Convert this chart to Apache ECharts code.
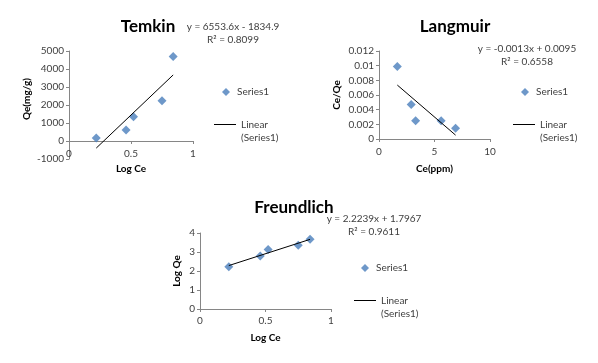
<!DOCTYPE html>
<html>
<head>
<meta charset="utf-8">
<script src="https://cdn.jsdelivr.net/npm/echarts@6/dist/echarts.min.js"></script>
<style>
html,body{margin:0;padding:0;background:#fff;}
#c{width:598px;height:363px;}
</style>
</head>
<body>
<div id="c"></div>
<script>
// ---- data ----
var logCe = [0.22, 0.46, 0.52, 0.75, 0.84];
var temkinQe = [170, 610, 1350, 2240, 4690];
var langmuirCe = [1.65, 2.9, 3.3, 5.6, 6.9];
var langmuirCeQe = [0.0099, 0.0047, 0.0025, 0.0025, 0.00145];
var freundlichLogQe = [2.23, 2.79, 3.13, 3.35, 3.67];
// fitted trend lines as printed on the chart: [slope, intercept]
var temkinFit = [6553.6, -1834.9];
var langmuirFit = [-0.0013, 0.0095];
var freundlichFit = [2.2239, 1.7967];
var chartTitles = ['Temkin', 'Langmuir', 'Freundlich'];
var equations = ['y = 6553.6x - 1834.9\nR\u00b2 = 0.8099', 'y = -0.0013x + 0.0095\nR\u00b2 = 0.6558', 'y = 2.2239x + 1.7967\nR\u00b2 = 0.9611'];

function pts(xs, ys){ return xs.map(function(x,i){ return [x, ys[i]]; }); }
function fitLine(xs, fit){
  var mn = Math.min.apply(null, xs), mx = Math.max.apply(null, xs);
  return [[mn, fit[0]*mn + fit[1]], [mx, fit[0]*mx + fit[1]]];
}

var FONT = 'Lato';
var BLUE = '#4A7EBB';
var AX = '#868686';
var TXT = '#404040';

function xAxis(idx, min, max, interval, name, gap, offset, margin){
  return {
    type:'value', gridIndex: idx, min:min, max:max, interval:interval, position:'bottom', offset:offset,
    name:name, nameLocation:'middle', nameGap:gap,
    nameTextStyle:{fontFamily:FONT, fontWeight:'bold', fontSize:10, color:'#000'},
    axisLine:{show:true, onZero:false, lineStyle:{color:AX, width:1}},
    axisTick:{show:true, length:3, lineStyle:{color:AX}},
    axisLabel:{fontFamily:FONT, fontSize:10, color:TXT, margin:margin},
    splitLine:{show:false}
  };
}
function yAxis(idx, min, max, interval, name, gap, pad, fmt){
  return {
    type:'value', gridIndex: idx, min:min, max:max, interval:interval,
    name:name, nameLocation:'middle', nameGap:gap,
    nameTextStyle:{fontFamily:FONT, fontWeight:'bold', fontSize:10, color:'#000', padding:pad},
    axisLine:{show:true, lineStyle:{color:AX, width:1}},
    axisTick:{show:true, length:3, lineStyle:{color:AX}},
    axisLabel:{fontFamily:FONT, fontSize:10, color:TXT, margin:5, formatter:fmt},
    splitLine:{show:false}
  };
}
function plain(v){ return String(+v.toFixed(4)); }

var scatterBase = {type:'scatter', name:'Series1', symbol:'diamond', symbolSize:9, itemStyle:{color:BLUE}};
var lineBase = {type:'line', name:'Linear (Series1)', symbol:'none', lineStyle:{color:'#000', width:1}, itemStyle:{color:'#000'}};

function legendPair(diamondLeft, diamondTop, lineLeft, lineTop){
  return [
    {left:diamondLeft, top:diamondTop, data:['Series1'], icon:'diamond', itemWidth:8, itemHeight:8,
     textStyle:{fontFamily:FONT, fontSize:10, color:TXT, padding:[0,0,0,2]}, selectedMode:false},
    {left:lineLeft, top:lineTop, data:['Linear (Series1)'], icon:'rect', itemWidth:22, itemHeight:1,
     itemGap:0,
     formatter:function(){ return ' \nLinear\n(Series1)'; },
     textStyle:{fontFamily:FONT, fontSize:10, color:TXT, lineHeight:13}, selectedMode:false}
  ];
}

function titleAt(text, cx, top){
  return {text:text, left:cx, top:top, textAlign:'center',
    textStyle:{fontFamily:FONT, fontWeight:'bold', fontSize:17, color:'#000'}};
}
function eqAt(text, cx, top){
  return {text:text, left:cx, top:top, textAlign:'center',
    textStyle:{fontFamily:FONT, fontWeight:'normal', fontSize:10, color:TXT, lineHeight:12.5}};
}

var chart = echarts.init(document.getElementById('c'), null, {renderer:'canvas'});
chart.setOption({
  animation:false,
  backgroundColor:'#fff',
  title:[
    titleAt(chartTitles[0], 143, 13),
    titleAt(chartTitles[1], 450, 13),
    titleAt(chartTitles[2], 289, 194),
    eqAt(equations[0], 228, 16),
    eqAt(equations[1], 522, 38),
    eqAt(equations[2], 369, 208)
  ],
  legend: [].concat(
    legendPair(217, 82, 209, 100),
    legendPair(516, 82, 508, 100),
    legendPair(356, 258, 349, 276)
  ),
  grid:[
    {left:69, top:51, width:124, height:108},
    {left:379, top:51, width:111, height:88},
    {left:200, top:233, width:131, height:76}
  ],
  xAxis:[
    xAxis(0, 0, 1, 0.5, 'Log Ce', 23, -18, 8),
    xAxis(1, 0, 10, 5, 'Ce(ppm)', 25, 0, 8),
    xAxis(2, 0, 1, 0.5, 'Log Ce', 24, 0, 7)
  ],
  yAxis:[
    yAxis(0, -1000, 5000, 1000, 'Qe(mg/g)', 37, [0,0,0,12], plain),
    yAxis(1, 0, 0.012, 0.002, 'Ce/Qe', 37, [0,0,0,0], plain),
    yAxis(2, 0, 4, 1, 'Log Qe', 18, [0,0,0,0], plain)
  ],
  series:[
    Object.assign({}, scatterBase, {xAxisIndex:0, yAxisIndex:0, data:pts(logCe, temkinQe)}),
    Object.assign({}, lineBase, {xAxisIndex:0, yAxisIndex:0, data:fitLine(logCe, temkinFit)}),
    Object.assign({}, scatterBase, {xAxisIndex:1, yAxisIndex:1, data:pts(langmuirCe, langmuirCeQe)}),
    Object.assign({}, lineBase, {xAxisIndex:1, yAxisIndex:1, data:fitLine(langmuirCe, langmuirFit)}),
    Object.assign({}, scatterBase, {xAxisIndex:2, yAxisIndex:2, data:pts(logCe, freundlichLogQe)}),
    Object.assign({}, lineBase, {xAxisIndex:2, yAxisIndex:2, data:fitLine(logCe, freundlichFit)})
  ]
});
</script>
</body>
</html>
